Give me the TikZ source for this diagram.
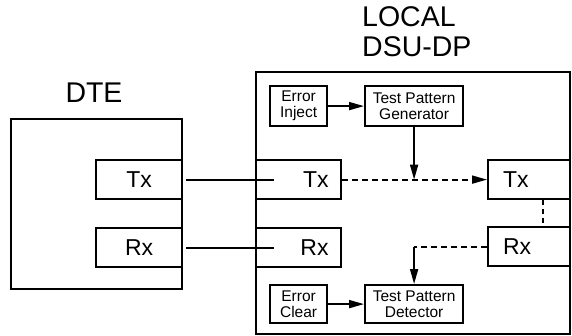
\documentclass[tikz,border=0pt]{standalone}
\usepackage{fontspec}
\setmainfont{Liberation Sans}
\usetikzlibrary{arrows.meta}

\begin{document}
\begin{tikzpicture}[x=1pt,y=-1pt,
  box/.style={draw,line width=2.2pt,inner sep=0pt,anchor=north west},
  big/.style={font=\fontsize{23}{26}\selectfont},
  small/.style={font=\fontsize{15.5}{16}\selectfont,align=center},
  title/.style={font=\fontsize{28.5}{30}\selectfont,inner sep=0pt},
  wire/.style={line width=1.8pt},
  >={Triangle[length=15pt,width=8pt]}]
\useasboundingbox (0,0) rectangle (572,335);
% titles
\node[title] (dtelbl) at (94,92.5) {DTE};
\node[title,align=left,anchor=north west] (dsulbl) at (362,6.5) {LOCAL\\DSU-DP};
% DTE side
\node[box,minimum width=171,minimum height=170] (dte) at (10,118) {};
\node[box,big,minimum width=86,minimum height=39] (dtetx) at (95,159) {Tx};
\node[box,big,minimum width=86,minimum height=39] (dterx) at (95,227) {Rx};
% DSU-DP side
\node[box,minimum width=314,minimum height=262] (dsu) at (255,71) {};
\node[box,big,minimum width=85,minimum height=39,text width=60,align=right] (ltx) at (255,159) {Tx};
\node[box,big,minimum width=85,minimum height=39,text width=60,align=right] (lrx) at (255,227) {Rx};
\node[box,big,minimum width=82,minimum height=39,text width=52,align=left] (rtx) at (487,159) {Tx};
\node[box,big,minimum width=82,minimum height=39,text width=52,align=left] (rrx) at (487,226) {Rx};
\node[box,small,minimum width=57,minimum height=40] (inj) at (269,85) {Error\\Inject};
\node[box,small,minimum width=98,minimum height=40] (gen) at (364,85) {Test Pattern\\Generator};
\node[box,small,minimum width=57,minimum height=38] (clr) at (269,284) {Error\\Clear};
\node[box,small,minimum width=98,minimum height=38] (det) at (364,284) {Test Pattern\\Detector};
% links
\draw[wire] ([xshift=3pt]dtetx.east) -- ([xshift=19pt]ltx.west |- dtetx.east);
\draw[wire] ([xshift=3pt]dterx.east) -- ([xshift=19pt]lrx.west |- dterx.east);
\draw[wire,->] (inj) -- (gen);
\draw[wire,->] (clr) -- (det);
\draw[wire,dash pattern=on 6pt off 4pt,->] (ltx.east) -- (ltx.east -| rtx.west);
\coordinate (tap) at (gen.south |- ltx.east);
\draw[wire,->] (gen) -- (tap);
\draw[wire,dash pattern=on 5pt off 4pt] ([xshift=-28pt]rtx.south east) -- ([xshift=-28pt]rrx.north east);
\coordinate (turn) at (det.north |- rrx.west);
\draw[wire,dash pattern=on 6pt off 4pt] (rrx.west) -- (turn);
\draw[wire,->] (turn) -- (det);
\end{tikzpicture}
\end{document}
